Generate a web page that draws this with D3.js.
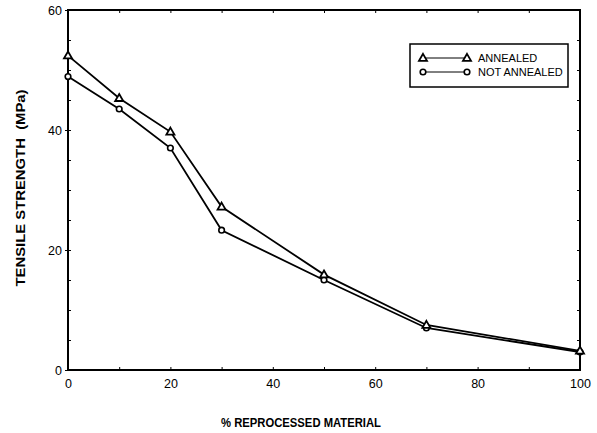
<!DOCTYPE html>
<html>
<head>
<meta charset="utf-8">
<script src="https://cdn.jsdelivr.net/npm/d3@7"></script>
<style>
  body { margin: 0; background: #fff; }
  svg { display: block; font-family: Arial, "Liberation Sans", sans-serif; }
</style>
</head>
<body>
<svg id="chart"></svg>
<script>
// data
var reprocessed = [0, 10, 20, 30, 50, 70, 100];
var annealed = [52.4, 45.3, 39.7, 27.2, 15.9, 7.5, 3.2];
var notAnnealed = [48.9, 43.5, 37.0, 23.3, 15.0, 7.0, 3.0];
var xTicks = [0, 20, 40, 60, 80, 100];
var yTicks = [0, 20, 40, 60];
var seriesNames = ["ANNEALED", "NOT ANNEALED"];

var W = 597, H = 433;
var margin = {top: 10, right: 17, bottom: 63, left: 68};
var width = W - margin.left - margin.right,
    height = H - margin.top - margin.bottom;

var svg = d3.select("#chart").attr("width", W).attr("height", H);
var g = svg.append("g")
    .attr("transform", "translate(" + margin.left + "," + margin.top + ")");

var x = d3.scaleLinear().domain([0, 100]).range([0, width]);
var y = d3.scaleLinear().domain([0, 60]).range([height, 0]);

// minor ticks on all four sides, pointing inward
var minorX = d3.range(0, 101, 10), minorY = d3.range(0, 61, 5);
g.append("g").attr("transform", "translate(0," + height + ")")
    .call(d3.axisTop(x).tickValues(minorX).tickSize(3).tickFormat(""));
g.append("g")
    .call(d3.axisBottom(x).tickValues(minorX).tickSize(3).tickFormat(""));
g.append("g")
    .call(d3.axisRight(y).tickValues(minorY).tickSize(3).tickFormat(""));
g.append("g").attr("transform", "translate(" + width + ",0)")
    .call(d3.axisLeft(y).tickValues(minorY).tickSize(3).tickFormat(""));

// labelled axes
g.append("g").attr("class", "xaxis")
    .attr("transform", "translate(0," + height + ")")
    .call(d3.axisBottom(x).tickValues(xTicks).tickSize(0).tickPadding(9));
g.append("g").attr("class", "yaxis")
    .call(d3.axisLeft(y).tickValues(yTicks).tickSize(3).tickPadding(3));

g.selectAll(".domain").attr("stroke", "none");
g.selectAll(".tick line").attr("stroke", "#000").attr("stroke-width", 1);
g.selectAll(".tick text").attr("fill", "#000").style("font-size", "12.5px")
    .style("font-family", "Arial, 'Liberation Sans', sans-serif");

// frame
g.append("rect").attr("width", width).attr("height", height)
    .attr("fill", "none").attr("stroke", "#000").attr("stroke-width", 2);

var line = d3.line()
    .x(function(d) { return x(d[0]); })
    .y(function(d) { return y(d[1]); });

var tri = d3.symbol().type(d3.symbolTriangle).size(28);

function drawSeries(vals, marker) {
    var pts = reprocessed.map(function(v, i) { return [v, vals[i]]; });
    g.append("path").datum(pts).attr("d", line)
        .attr("fill", "none").attr("stroke", "#000").attr("stroke-width", 1.8);
    pts.forEach(function(p) {
        drawMarker(g, x(p[0]), y(p[1]), marker);
    });
}

function drawMarker(sel, cx, cy, marker) {
    if (marker == "tri") {
        sel.append("path").attr("d", tri)
            .attr("transform", "translate(" + cx + "," + (cy + 0.5) + ")")
            .attr("fill", "#fff").attr("stroke", "#000").attr("stroke-width", 1.8);
    } else {
        sel.append("circle").attr("cx", cx).attr("cy", cy).attr("r", 2.8)
            .attr("fill", "#fff").attr("stroke", "#000").attr("stroke-width", 1.6);
    }
}

drawSeries(notAnnealed, "circ");
drawSeries(annealed, "tri");

// legend
var leg = svg.append("g").attr("transform", "translate(410,44)");
leg.append("rect").attr("width", 158).attr("height", 43)
    .attr("fill", "#fff").attr("stroke", "#000").attr("stroke-width", 1.5);
[["tri", 14], ["circ", 28]].forEach(function(m, i) {
    leg.append("line").attr("x1", 13).attr("x2", 57)
        .attr("y1", m[1]).attr("y2", m[1])
        .attr("stroke", "#000").attr("stroke-width", 1);
    drawMarker(leg, 13, m[1], m[0]);
    drawMarker(leg, 57, m[1], m[0]);
    leg.append("text").attr("x", 68).attr("y", m[1] + 4)
        .style("font-size", "11px").text(seriesNames[i]);
});

// axis titles
svg.append("text")
    .attr("transform", "translate(25,188) rotate(-90)")
    .attr("text-anchor", "middle")
    .attr("textLength", 197).attr("lengthAdjust", "spacingAndGlyphs")
    .style("font-size", "12.5px").style("font-weight", "bold")
    .style("white-space", "pre")
    .text("TENSILE STRENGTH  (MPa)");

svg.append("text")
    .attr("x", 301).attr("y", 427)
    .attr("text-anchor", "middle")
    .attr("textLength", 160).attr("lengthAdjust", "spacingAndGlyphs")
    .style("font-size", "13.5px").style("font-weight", "bold")
    .text("% REPROCESSED MATERIAL");
</script>
</body>
</html>
